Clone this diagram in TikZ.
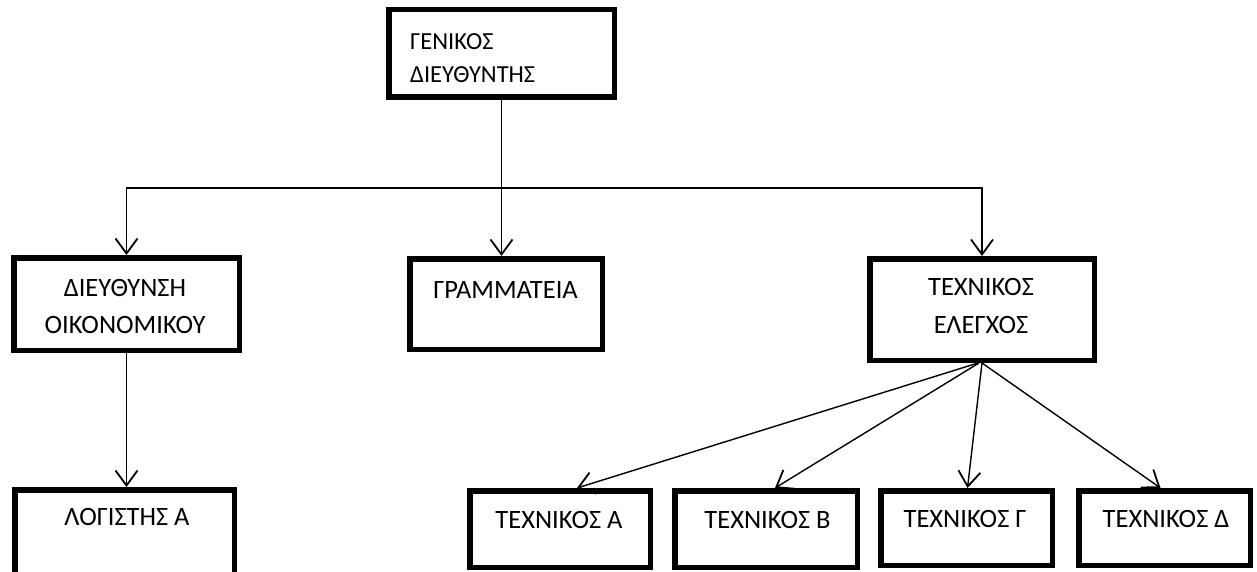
\documentclass[tikz,border=0pt]{standalone}
\usepackage{fontspec}
\setmainfont{Carlito}
\usetikzlibrary{arrows.meta}
\begin{document}
\begin{tikzpicture}[x=1pt,y=-1pt,
  box/.style={draw,line width=5.5pt,inner sep=0pt},
  lbl/.style={inner sep=0pt,anchor=base,font=\fontsize{26.5}{30}\selectfont},
  lblw/.style={inner sep=0pt,anchor=base west,font=\fontsize{24.5}{30}\selectfont},
  conn/.style={line width=1.4pt,-{Straight Barb[length=15pt,width=22pt,line width=1.8pt]}}
]
\useasboundingbox (0,0) rectangle (1257,572);
\clip (0,0) rectangle (1257,572);
% boxes
\node[box,minimum width=225.5pt,minimum height=87.5pt] (gd) at (501.5,53.5) {};
\node[box,minimum width=225.5pt,minimum height=92.5pt] (dir) at (126.5,304) {};
\node[box,minimum width=192.5pt,minimum height=90.5pt] (gram) at (506,304) {};
\node[box,minimum width=224.5pt,minimum height=101.5pt] (tech) at (982,309.5) {};
\node[box,minimum width=219.5pt,minimum height=92.5pt] (log) at (124.5,536) {};
\node[box,minimum width=180.5pt,minimum height=76.5pt] (ta) at (560,529) {};
\node[box,minimum width=182.5pt,minimum height=76.5pt] (tb) at (766,529) {};
\node[box,minimum width=171.5pt,minimum height=74.5pt] (tg) at (966.5,528) {};
\node[box,minimum width=171.5pt,minimum height=74.5pt] (td) at (1164.5,528) {};
% labels
\node[lblw] (gd1) at (410,50) {ΓΕΝΙΚΟΣ};
\node[lblw] (gd2) at (410,83) {ΔΙΕΥΘΥΝΤΗΣ};
\node[lbl] (dir1) at (125,296) {ΔΙΕΥΘΥΝΣΗ};
\node[lbl] (dir2) at (125,333) {ΟΙΚΟΝΟΜΙΚΟΥ};
\node[lbl] (gram1) at (505.5,298) {ΓΡΑΜΜΑΤΕΙΑ};
\node[lbl] (tech1) at (981,295) {ΤΕΧΝΙΚΟΣ};
\node[lbl] (tech2) at (981,333) {ΕΛΕΓΧΟΣ};
\node[lbl] (log1) at (127,525) {ΛΟΓΙΣΤΗΣ Α};
\node[lbl] (ta1) at (559,528) {ΤΕΧΝΙΚΟΣ Α};
\node[lbl] (tb1) at (767.5,528) {ΤΕΧΝΙΚΟΣ Β};
\node[lbl] (tg1) at (965,527) {ΤΕΧΝΙΚΟΣ Γ};
\node[lbl] (td1) at (1166,527) {ΤΕΧΝΙΚΟΣ Δ};
% connectors
\coordinate (hline) at (0,188);
\draw[conn] (gd.south) -- (gd.south |- gram.north);
\draw[conn] (gd.south |- hline) -| (dir.north);
\draw[conn] (gd.south |- hline) -| (tech.north);
\draw[conn] (dir.south) -- (dir.south |- log.north);
\draw[conn] ([xshift=-4pt]tech.south) -- ([xshift=17pt]ta.north);
\draw[conn] ([xshift=-3pt]tech.south) -- ([xshift=9pt]tb.north);
\draw[conn] (tech.south) -- ([xshift=1pt]tg.north);
\draw[conn] (tech.south) -- ([xshift=-4pt]td.north);
\end{tikzpicture}
\end{document}
